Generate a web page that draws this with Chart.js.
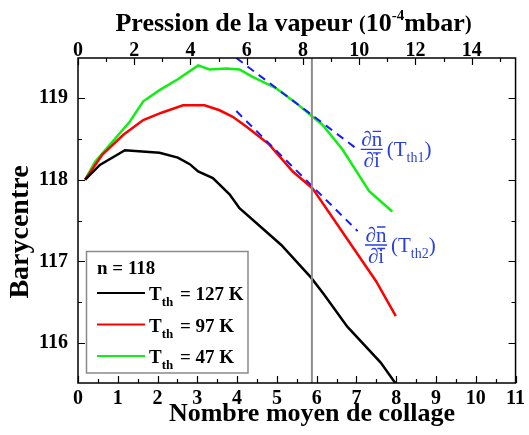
<!DOCTYPE html>
<html>
<head>
<meta charset="utf-8">
<script src="https://cdn.jsdelivr.net/npm/chart.js@4.4.1/dist/chart.umd.min.js"></script>
<style>
  html, body { margin: 0; padding: 0; background: #fff; }
  #c { display: block; }
</style>
</head>
<body>
<canvas id="c" width="529" height="435"></canvas>
<script>
// values
var blackX = [0.18, 0.55, 1.18, 2.05, 2.51, 2.81, 3.02, 3.39, 3.81, 4.06, 5.11, 5.86, 6.19, 6.77, 7.61, 7.99];
var blackY = [118.0, 118.18, 118.36, 118.33, 118.27, 118.19, 118.10, 118.02, 117.82, 117.65, 117.20, 116.80, 116.59, 116.20, 115.76, 115.50];

var redX = [0.18, 0.6, 1.14, 1.64, 2.10, 2.64, 3.18, 3.56, 3.89, 4.23, 4.81, 5.40, 5.90, 7.49, 7.99];
var redY = [118.0, 118.30, 118.55, 118.73, 118.82, 118.91, 118.91, 118.85, 118.77, 118.65, 118.43, 118.10, 117.89, 116.76, 116.33];

var greenX = [0.18, 0.43, 1.30, 1.64, 2.06, 2.51, 3.02, 3.31, 3.73, 4.06, 4.39, 4.98, 5.48, 5.90, 6.15, 6.65, 7.32, 7.90];
var greenY = [118.0, 118.22, 118.71, 118.96, 119.10, 119.23, 119.40, 119.35, 119.36, 119.35, 119.26, 119.12, 118.94, 118.77, 118.67, 118.37, 117.86, 117.61];

var tan1X = [3.98, 7.03], tan1Y = [119.49, 118.37];
var tan2X = [3.98, 7.03], tan2Y = [118.84, 117.37];
var markX = [5.88, 5.88], markY = [115.51, 119.49];

var pressureTicks = [0, 2, 4, 6, 8, 10, 12, 14];
var legendLabels = ["127 K", "97 K", "47 K"];
var legendColors = ["#000000", "#ff0000", "#11ee11"];

var FONT = "'Liberation Serif', 'Times New Roman', serif";
var BLUE = "#2a3fdc";

function pts(xs, ys) {
  return xs.map(function (x, i) { return { x: x, y: ys[i] }; });
}

// frame, inward ticks, titles, legend and the two slope notes
var decor = {
  id: 'decor',
  afterDraw: function (chart) {
    var ctx = chart.ctx, ca = chart.chartArea;
    var xs = chart.scales.x, x2 = chart.scales.x2, ys = chart.scales.y;
    ctx.save();
    ctx.strokeStyle = '#000';
    ctx.lineWidth = 1.5;
    ctx.strokeRect(ca.left, ca.top, ca.right - ca.left, ca.bottom - ca.top);

    ctx.lineWidth = 1.2;
    ctx.beginPath();
    for (var i = 0; i <= 22; i++) {
      var px = Math.round(xs.getPixelForValue(i * 0.5)) + 0.5;
      var len = i % 2 === 0 ? 7 : 4;
      ctx.moveTo(px, ca.bottom); ctx.lineTo(px, ca.bottom - len);
    }
    for (var k = 0; k <= 15; k++) {
      var qx = Math.round(x2.getPixelForValue(k)) + 0.5;
      var l2 = k % 2 === 0 ? 7 : 4;
      ctx.moveTo(qx, ca.top); ctx.lineTo(qx, ca.top + l2);
    }
    for (var j = 232; j <= 238; j++) {
      var v = j * 0.5;
      if (v < ys.min || v > ys.max) continue;
      var py = Math.round(ys.getPixelForValue(v)) + 0.5;
      var l3 = j % 2 === 0 ? 7 : 4;
      ctx.moveTo(ca.left, py); ctx.lineTo(ca.left + l3, py);
      ctx.moveTo(ca.right, py); ctx.lineTo(ca.right - l3, py);
    }
    ctx.stroke();

    // top axis labels
    ctx.fillStyle = '#000';
    ctx.font = 'bold 20px ' + FONT;
    ctx.textAlign = 'center';
    ctx.textBaseline = 'alphabetic';
    pressureTicks.forEach(function (p) {
      ctx.fillText(String(p), x2.getPixelForValue(p), 56);
    });

    // axis titles
    ctx.textAlign = 'left';
    var parts = [
      { t: 'Pression de la vapeur ', s: 26, dy: 0 },
      { t: '(', s: 20, dy: -1 },
      { t: '10', s: 26, dy: 0 },
      { t: '-4', s: 15, dy: -11 },
      { t: 'mbar', s: 26, dy: 0 },
      { t: ')', s: 20, dy: -1 }
    ];
    var total = 0;
    parts.forEach(function (p) { ctx.font = 'bold ' + p.s + 'px ' + FONT; p.w = ctx.measureText(p.t).width; total += p.w; });
    var cx = 293.5 - total / 2;
    parts.forEach(function (p) { ctx.font = 'bold ' + p.s + 'px ' + FONT; ctx.fillText(p.t, cx, 31 + p.dy); cx += p.w; });

    ctx.font = 'bold 26px ' + FONT;
    ctx.textAlign = 'center';
    ctx.fillText('Nombre moyen de collage', 312, 421);

    ctx.save();
    ctx.translate(28, 232);
    ctx.rotate(-Math.PI / 2);
    ctx.font = 'bold 28px ' + FONT;
    ctx.fillText('Barycentre', 0, 0);
    ctx.restore();

    // legend
    ctx.fillStyle = '#fff';
    ctx.fillRect(86.5, 251.5, 161.5, 121.5);
    ctx.strokeStyle = '#8a8a8a';
    ctx.lineWidth = 1.5;
    ctx.strokeRect(86.5, 251.5, 161.5, 121.5);
    ctx.fillStyle = '#000';
    ctx.textAlign = 'left';
    ctx.font = 'bold 19px ' + FONT;
    ctx.fillText('n = 118', 97, 274);
    var rowY = [300, 331.5, 363];
    legendLabels.forEach(function (lab, r) {
      var by = rowY[r];
      ctx.strokeStyle = legendColors[r];
      ctx.lineWidth = 2;
      ctx.beginPath(); ctx.moveTo(97, by - 7); ctx.lineTo(145, by - 7); ctx.stroke();
      ctx.fillStyle = '#000';
      ctx.font = 'bold 19px ' + FONT;
      var x = 149;
      ctx.fillText('T', x, by); x += ctx.measureText('T').width;
      ctx.font = 'bold 13px ' + FONT;
      ctx.fillText('th', x, by + 6); x += ctx.measureText('th').width + 2;
      ctx.font = 'bold 19px ' + FONT;
      ctx.fillText(' = ' + lab, x, by);
    });

    // d n / d i notes
    function note(cxF, lineY, x0, x1, sub) {
      ctx.fillStyle = BLUE; ctx.strokeStyle = BLUE;
      ctx.font = '21px ' + FONT;
      ctx.textAlign = 'left';
      var wD = ctx.measureText('\u2202').width, wN = ctx.measureText('n').width, wI = ctx.measureText('i').width;
      var nx = cxF - (wD + wN) / 2;
      ctx.fillText('\u2202n', nx, lineY - 3);
      ctx.lineWidth = 1.3;
      ctx.beginPath();
      ctx.moveTo(nx + wD + 1, lineY - 18); ctx.lineTo(nx + wD + wN - 1, lineY - 18);
      ctx.moveTo(x0, lineY); ctx.lineTo(x1, lineY);
      var ix = cxF - (wD + wI) / 2;
      ctx.moveTo(ix + wD - 1, lineY + 3.5); ctx.lineTo(ix + wD + wI + 1, lineY + 3.5);
      ctx.stroke();
      ctx.fillText('\u2202i', ix, lineY + 18);
      var tx = x1 + 4, by = lineY + 7;
      ctx.font = '21px ' + FONT;
      ctx.fillText('(T', tx, by); tx += ctx.measureText('(T').width;
      ctx.font = '14px ' + FONT;
      ctx.fillText(sub, tx, by + 6); tx += ctx.measureText(sub).width;
      ctx.font = '21px ' + FONT;
      ctx.fillText(')', tx, by);
    }
    note(371.7, 149.3, 360.7, 382.7, 'th1');
    note(376, 245, 365, 387, 'th2');
    ctx.restore();
  }
};

var tickFont = { family: FONT, size: 20, weight: 'bold' };

new Chart(document.getElementById('c'), {
  type: 'line',
  data: {
    datasets: [
      { data: pts(markX, markY), borderColor: '#8c8c8c', borderWidth: 2 },
      { data: pts(tan1X, tan1Y), borderColor: '#1a1aff', borderWidth: 2, borderDash: [8, 6] },
      { data: pts(tan2X, tan2Y), borderColor: '#1a1aff', borderWidth: 2, borderDash: [8, 6] },
      { data: pts(blackX, blackY), borderColor: legendColors[0], borderWidth: 2.5 },
      { data: pts(redX, redY), borderColor: legendColors[1], borderWidth: 2.5 },
      { data: pts(greenX, greenY), borderColor: legendColors[2], borderWidth: 2.5 }
    ]
  },
  options: {
    responsive: false,
    animation: false,
    layout: { padding: { left: 0, right: 10.5, top: 0, bottom: 0 } },
    elements: { point: { radius: 0 }, line: { tension: 0, fill: false } },
    plugins: { legend: { display: false }, tooltip: { enabled: false } },
    scales: {
      x: {
        type: 'linear', position: 'bottom', min: 0, max: 11,
        afterFit: function (s) { s.height = 52; },
        grid: { display: false, drawTicks: false }, border: { display: false },
        ticks: { stepSize: 1, padding: 4, color: '#000', font: tickFont, autoSkip: false, maxRotation: 0, includeBounds: false }
      },
      x2: {
        type: 'linear', position: 'top', min: 0, max: 15.56,
        afterFit: function (s) { s.height = 58; },
        grid: { display: false, drawTicks: false }, border: { display: false },
        ticks: { display: false, stepSize: 2, includeBounds: false }
      },
      y: {
        type: 'linear', min: 115.51, max: 119.49,
        afterFit: function (s) { s.width = 78; },
        grid: { display: false, drawTicks: false }, border: { display: false },
        ticks: { stepSize: 1, padding: 10, color: '#000', font: tickFont, includeBounds: false,
          callback: function (v) { return Number.isInteger(v) ? v : ''; } }
      }
    }
  },
  plugins: [decor]
});
</script>
</body>
</html>
